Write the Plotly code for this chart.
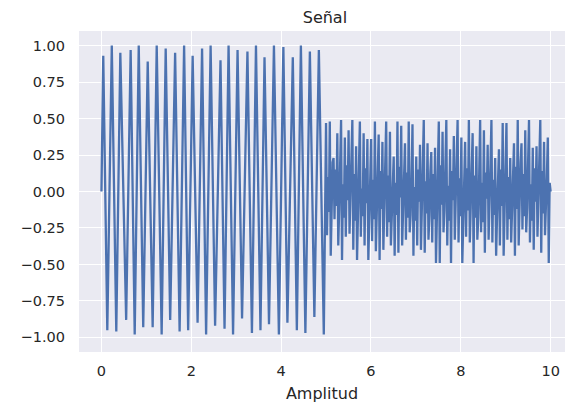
import numpy as np
import plotly.graph_objects as go

# ---- First half (0-5): extremes of the large oscillation ----
t_first = [0.00, 0.04, 0.13, 0.23, 0.33, 0.42, 0.55, 0.65, 0.74, 0.83, 0.93,
           1.03, 1.14, 1.23, 1.34, 1.43, 1.53, 1.64, 1.74, 1.84, 1.93,
           2.03, 2.14, 2.24, 2.33, 2.43, 2.53, 2.65, 2.74, 2.83, 2.93,
           3.03, 3.13, 3.25, 3.35, 3.44, 3.54, 3.63, 3.73, 3.84, 3.95,
           4.05, 4.14, 4.26, 4.35, 4.44, 4.54, 4.64, 4.74, 4.84, 4.95]
amp_first = [0.00, 0.93, -0.95, 1.00, -0.96, 0.95, -0.88, 0.97, -0.98, 1.00, -0.93,
             0.89, -0.93, 1.00, -0.98, 0.98, -0.88, 0.95, -0.96, 1.00, -0.95,
             0.93, -0.90, 0.98, -0.98, 1.00, -0.92, 0.90, -0.94, 1.00, -0.98,
             0.97, -0.87, 0.96, -0.97, 1.00, -0.95, 0.92, -0.91, 1.00, -0.98,
             0.99, -0.90, 0.92, -0.95, 1.00, -0.97, 0.96, -0.86, 0.97, -0.98]

# ---- Second half (5-10): per cycle a top spike, a bottom spike and two middle samples ----
peaks_second = [0.47, 0.48, 0.23, 0.40, 0.49, 0.37, 0.42, 0.49, 0.31, 0.48,
                0.40, 0.36, 0.36, 0.48, 0.39, 0.34, 0.48, 0.41, 0.24, 0.48,
                0.45, 0.33, 0.48, 0.46, 0.24, 0.32, 0.49, 0.33, 0.27, 0.30,
                0.48, 0.41, 0.49, 0.29, 0.38, 0.49, 0.37, 0.34, 0.49, 0.40,
                0.31, 0.49, 0.42, 0.32, 0.49, 0.23, 0.29, 0.47, 0.47, 0.23,
                0.33, 0.49, 0.33, 0.42, 0.49, 0.30, 0.31, 0.49, 0.34, 0.37]
troughs_second = [-0.30, -0.44, -0.19, -0.37, -0.47, -0.31, -0.29, -0.40, -0.47, -0.31,
                  -0.37, -0.47, -0.34, -0.41, -0.47, -0.40, -0.31, -0.37, -0.44,
                  -0.42, -0.37, -0.33, -0.28, -0.44, -0.37, -0.40, -0.42, -0.33, -0.35, -0.49,
                  -0.49, -0.28, -0.37, -0.49, -0.33, -0.35, -0.49, -0.31, -0.35, -0.49,
                  -0.33, -0.28, -0.42, -0.33, -0.35, -0.44, -0.37, -0.44, -0.33, -0.35,
                  -0.44, -0.37, -0.26, -0.28, -0.35, -0.40, -0.31, -0.42, -0.30, -0.49]
mids_a_second = [0.10, -0.05, 0.15, -0.12, 0.05, 0.18, -0.08, 0.12, -0.15, 0.02,
                 0.16, -0.10, 0.08, -0.18, 0.14, -0.04, 0.11, -0.14, 0.06, 0.17,
                 -0.09, 0.13, -0.16, 0.03, 0.15, -0.11, 0.07, -0.17, 0.12, -0.06,
                 0.18, -0.13, 0.04, 0.14, -0.10, 0.09, -0.15, 0.16, -0.03, 0.11,
                 -0.18, 0.06, 0.13, -0.12, 0.08, -0.16, 0.15, -0.07, 0.10, -0.14,
                 0.17, -0.05, 0.12, -0.11, 0.05, 0.16, -0.09, 0.14, -0.13, 0.06]
mids_b_second = [-0.14, 0.20, -0.10, 0.22, -0.18, -0.06, 0.19, -0.20, 0.14, -0.17,
                 -0.08, 0.21, -0.19, 0.12, -0.12, 0.20, -0.21, 0.09, -0.16, -0.04,
                 0.20, -0.18, 0.10, -0.20, -0.07, 0.21, -0.15, 0.13, -0.19, 0.18,
                 -0.09, 0.17, -0.20, -0.06, 0.22, -0.17, 0.11, -0.13, 0.20, -0.18,
                 0.12, -0.21, -0.05, 0.19, -0.16, 0.14, -0.10, 0.21, -0.19, 0.08,
                 -0.12, 0.20, -0.17, 0.13, -0.20, -0.07, 0.18, -0.15, 0.10, 0.00]

x_ticks = [0, 2, 4, 6, 8, 10]
y_ticks = [-1.0, -0.75, -0.5, -0.25, 0.0, 0.25, 0.5, 0.75, 1.0]
y_ticktext = [("\u2212" if v < 0 else "") + f"{abs(v):.2f}" for v in y_ticks]

amp_second = []
for p, tr, ma, mb in zip(peaks_second, troughs_second, mids_a_second, mids_b_second):
    amp_second += [p, tr, ma, mb]
t_second = np.linspace(5.0, 10.0, len(amp_second))

t_all = list(t_first) + list(t_second)
amp_all = list(amp_first) + amp_second

fig = go.Figure(go.Scatter(x=t_all, y=amp_all, mode="lines",
                           line=dict(color="#4C72B0", width=2.3)))

fig.update_layout(
    width=565, height=406,
    margin=dict(l=79, r=0, t=31, b=54),
    plot_bgcolor="#EAEAF2", paper_bgcolor="white",
    font=dict(family="DejaVu Sans", color="#262626"),
    showlegend=False,
    title=dict(text="Señal", x=0.506, xref="paper", xanchor="center",
               y=1 - 17 / 406, yref="container", yanchor="middle",
               font=dict(size=16, color="#262626")),
)
fig.update_xaxes(range=[-0.5, 10.32], tickvals=x_ticks, ticktext=[str(v) for v in x_ticks],
                 showgrid=True, gridcolor="white", gridwidth=1.3,
                 zeroline=False, showline=False, ticks="",
                 tickfont=dict(size=14.5, color="#262626"), ticklabelstandoff=8,
                 title=dict(text="Amplitud", font=dict(size=16, color="#262626"), standoff=10))
fig.update_yaxes(range=[-1.1, 1.1], tickvals=y_ticks, ticktext=y_ticktext,
                 showgrid=True, gridcolor="white", gridwidth=1.3,
                 zeroline=False, showline=False, ticks="",
                 tickfont=dict(size=14.5, color="#262626"), ticklabelstandoff=13)

fig.write_html("out.html")
